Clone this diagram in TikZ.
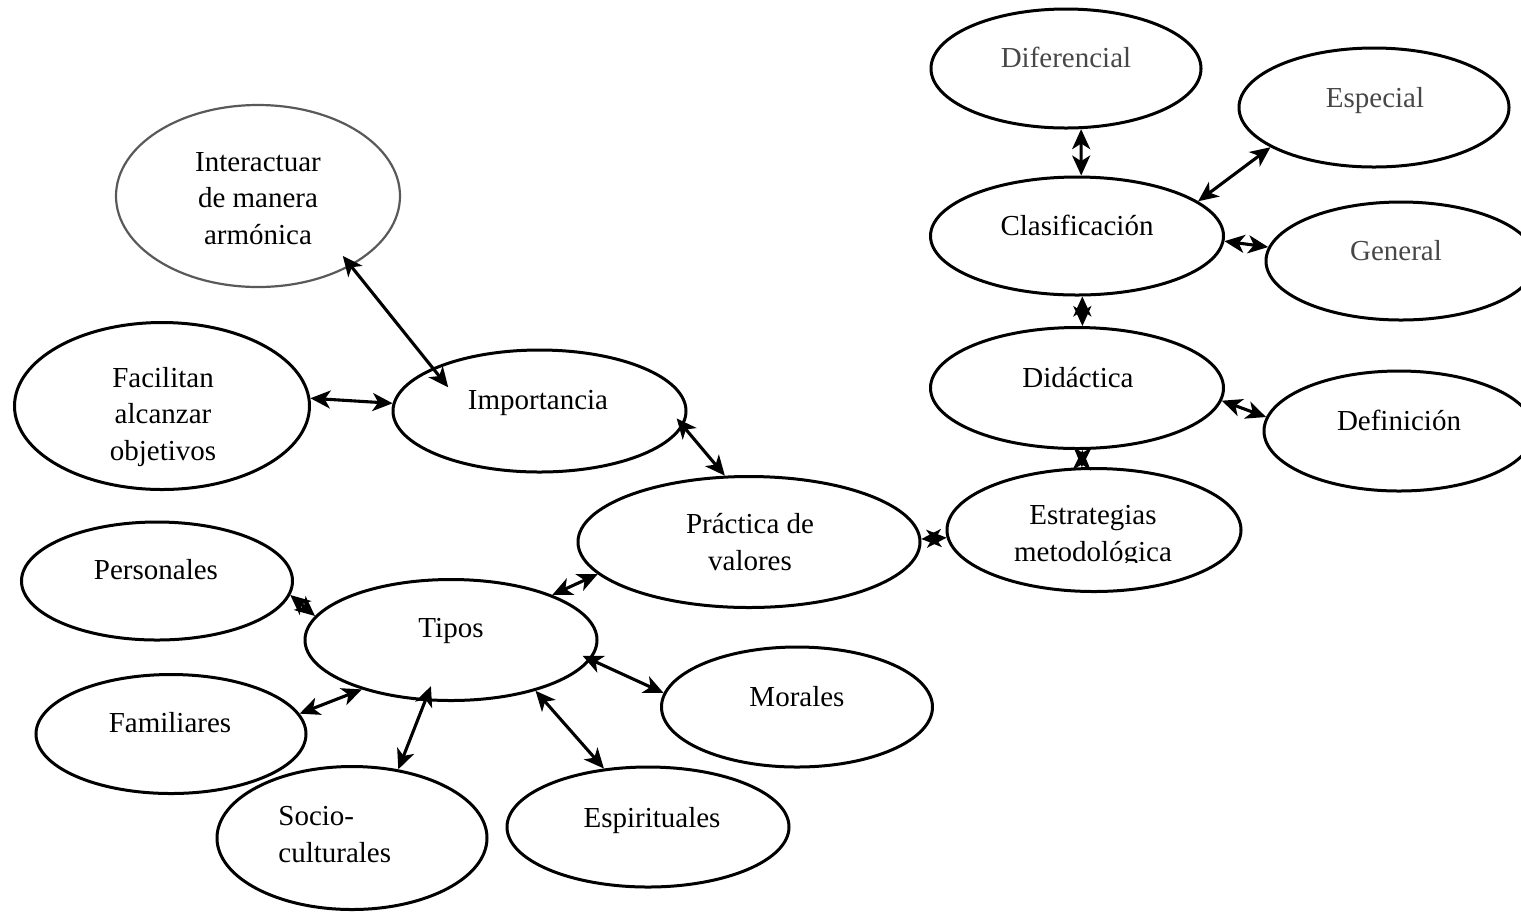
\documentclass[tikz,border=0pt]{standalone}
\usepackage{fontspec}
\setmainfont{Liberation Serif}
\usetikzlibrary{arrows.meta,shapes.geometric}

\begin{document}
\begin{tikzpicture}[x=0.5pt,y=-0.5pt,
	head/.tip={Stealth[length=10pt,width=9pt,inset=2.8pt]},
	link/.style={draw,line width=1.55pt,head-head},
	every edge/.style={link},
	base node/.style={ellipse,draw,line width=1.5pt,inner sep=0pt},
	pale node/.style={base node,draw=black!65,line width=1.1pt},
	word/.style={font=\fontsize{14.5}{18.25}\selectfont,align=center,anchor=base,inner sep=0pt},
	grey word/.style={word,text=black!72}]
	\useasboundingbox (0,0) rectangle (1521,912);

	% right branch
	\node[base node,minimum width=135pt,minimum height=59.5pt] (dif) at (1066,68.5) {};
	\node[base node,minimum width=135pt,minimum height=59.5pt] (esp) at (1374,107.5) {};
	\node[base node,minimum width=146.5pt,minimum height=59pt] (cla) at (1077,236) {};
	\node[base node,minimum width=135pt,minimum height=59pt] (gen) at (1401,261) {};
	\node[base node,minimum width=146.5pt,minimum height=60.5pt] (did) at (1077,388) {};
	\node[base node,minimum width=135pt,minimum height=60pt] (def) at (1399,431) {};
	\node[base node,minimum width=147pt,minimum height=61.5pt] (est) at (1094,530) {};

	% centre and upper left
	\node[base node,minimum width=171pt,minimum height=65.5pt] (prac) at (749,542) {};
	\node[base node,minimum width=146.5pt,minimum height=61pt] (imp) at (539.5,411) {};
	\node[pale node,minimum width=142pt,minimum height=91pt] (int) at (258,196) {};
	\node[base node,minimum width=147.5pt,minimum height=83.5pt] (fac) at (162,406) {};

	% types
	\node[base node,minimum width=135.5pt,minimum height=59pt] (per) at (157,581) {};
	\node[base node,minimum width=146pt,minimum height=60.5pt] (tip) at (451,640) {};
	\node[base node,minimum width=135pt,minimum height=59.5pt] (fam) at (171,734) {};
	\node[base node,minimum width=135pt,minimum height=71.5pt] (soc) at (352,838) {};
	\node[base node,minimum width=141pt,minimum height=60pt] (espi) at (648,827) {};
	\node[base node,minimum width=135.5pt,minimum height=60pt] (mor) at (797,707) {};

	% texts (multi-line ones sit on the baseline of their last line)
	\node[grey word] (dif-t) at (1066,67) {Diferencial};
	\node[grey word] (esp-t) at (1375,107) {Especial};
	\node[word] (cla-t) at (1077,235) {Clasificación};
	\node[grey word] (gen-t) at (1396,260) {General};
	\node[word] (did-t) at (1078,387) {Didáctica};
	\node[word] (def-t) at (1399,430) {Definición};
	\begin{scope}
		\clip (940,480) rectangle (1250,562);
		\node[word] (est-t) at (1093,561) {Estrategias\\metodológica};
	\end{scope}
	\node[word] (prac-t) at (750,570) {Práctica de\\valores};
	\node[word] (imp-t) at (538,409) {Importancia};
	\node[word] (int-t) at (258,244) {Interactuar\\de manera\\armónica};
	\node[word] (fac-t) at (163,460) {Facilitan\\alcanzar\\objetivos};
	\node[word] (per-t) at (156,579) {Personales};
	\node[word] (tip-t) at (451,637) {Tipos};
	\node[word] (fam-t) at (170,732) {Familiares};
	\node[word,align=left,anchor=base west] (soc-t) at (278,862) {Socio-\\culturales};
	\node[word] (espi-t) at (652,827) {Espirituales};
	\node[word] (mor-t) at (797,706) {Morales};

	\path (dif.-76) edge (cla.86)
	      (esp.201) edge (cla.16)
	      (cla.-2) edge (gen.174)
	      (cla.-85) edge (did.85)
	      (did.-5) edge (def.174)
	      (did.-85) edge (est.101)
	      (prac.1) edge (est.183)
	      (imp.-6) edge[shorten <=-5pt] (prac.110)
	      (int.-37) edge[shorten <=-6.5pt,shorten >=-12.5pt] (imp.158)
	      (fac.3) edge (imp.177)
	      (prac.192) edge (tip.24)
	      (per.-6) edge (tip.170)
	      (fam.9) edge (tip.209)
	      (soc.56) edge[shorten >=-8pt] (tip.247)
	      (espi.127) edge (tip.-31)
	      (mor.174) edge[shorten >=-4.5pt] (tip.-8);
\end{tikzpicture}
\end{document}
